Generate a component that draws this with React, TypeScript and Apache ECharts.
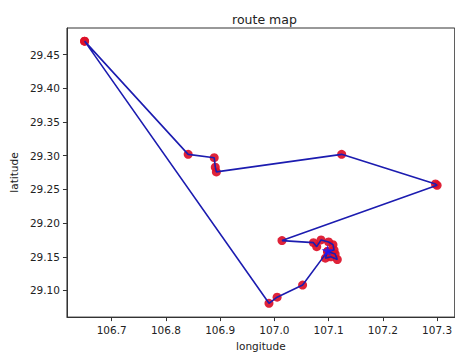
import React, { useEffect, useRef } from "react";
import * as echarts from "echarts";

const longitudes = [
  106.65, 106.841, 106.889, 106.891, 106.893, 107.124, 107.297, 107.3, 107.014,
  107.072, 107.078, 107.086, 107.1, 107.108, 107.11, 107.098, 107.112, 107.116,
  107.104, 107.094, 107.098, 107.052, 107.005, 106.99, 106.65,
];
const latitudes = [
  29.47, 29.302, 29.297, 29.283, 29.276, 29.302, 29.258, 29.256, 29.174,
  29.171, 29.165, 29.175, 29.172, 29.168, 29.16, 29.158, 29.154, 29.146,
  29.15, 29.148, 29.158, 29.108, 29.09, 29.081, 29.47,
];
const starPoint = [107.098, 29.159];
const xTicks = [106.7, 106.8, 106.9, 107.0, 107.1, 107.2, 107.3];
const yTicks = [29.1, 29.15, 29.2, 29.25, 29.3, 29.35, 29.4, 29.45];
const titleText = "route map";
const xName = "longitude";
const yName = "latitude";

const FONT = "DejaVu Sans";

export default function App() {
  const ref = useRef<HTMLDivElement>(null);
  useEffect(() => {
    if (!ref.current) return;
    const chart = echarts.init(ref.current, null, { renderer: "svg" });
    const pts = longitudes.map((x, i) => [x, latitudes[i]]);
    chart.setOption({
      animation: false,
      backgroundColor: "#ffffff",
      title: {
        text: titleText,
        left: 259.5,
        textAlign: "center",
        top: 8,
        textStyle: { fontFamily: FONT, fontSize: 12.5, fontWeight: "normal", color: "#222" },
      },
      grid: {
        left: 64,
        top: 28,
        right: 0,
        bottom: 36,
        show: true,
        borderColor: "#333",
        borderWidth: 1,
        backgroundColor: "transparent",
      },
      xAxis: {
        type: "value",
        min: 106.6175,
        max: 107.3325,
        name: xName,
        nameLocation: "middle",
        nameGap: 22,
        nameTextStyle: { fontFamily: FONT, fontSize: 10.5, color: "#222" },
        splitLine: { show: false },
        axisLine: { show: true, onZero: false, lineStyle: { color: "#333" } },
        axisTick: { show: true, length: 4, customValues: xTicks, lineStyle: { color: "#333" } },
        axisLabel: {
          customValues: xTicks,
          formatter: (v: number) => v.toFixed(1),
          fontFamily: FONT,
          fontSize: 10.5,
          color: "#222",
          margin: 7,
        },
      },
      yAxis: {
        type: "value",
        min: 29.0605,
        max: 29.4895,
        name: yName,
        nameLocation: "middle",
        nameGap: 47,
        nameTextStyle: { fontFamily: FONT, fontSize: 10.5, color: "#222" },
        splitLine: { show: false },
        axisLine: { show: true, onZero: false, lineStyle: { color: "#333" } },
        axisTick: { show: true, length: 4, customValues: yTicks, lineStyle: { color: "#333" } },
        axisLabel: {
          customValues: yTicks,
          formatter: (v: number) => v.toFixed(2),
          fontFamily: FONT,
          fontSize: 10.5,
          color: "#222",
          margin: 7,
        },
      },
      series: [
        {
          type: "scatter",
          data: pts,
          symbol: "circle",
          symbolSize: 9,
          itemStyle: { color: "#dc1028", opacity: 0.92 },
          z: 2,
        },
        {
          type: "line",
          data: pts,
          showSymbol: false,
          symbol: "none",
          lineStyle: { color: "#1c1cb0", width: 1.6 },
          z: 3,
        },
        {
          type: "scatter",
          data: [starPoint],
          symbol:
            "path://M50,0 L61,35 L98,35 L68,57 L79,91 L50,70 L21,91 L32,57 L2,35 L39,35 Z",
          symbolSize: 12,
          itemStyle: { color: "#1a1aff" },
          z: 4,
        },
      ],
    });
    return () => chart.dispose();
  }, []);
  return (
    <div
      ref={ref}
      style={{ position: "fixed", left: 0, top: 0, width: 455, height: 356, background: "#fff" }}
    />
  );
}
